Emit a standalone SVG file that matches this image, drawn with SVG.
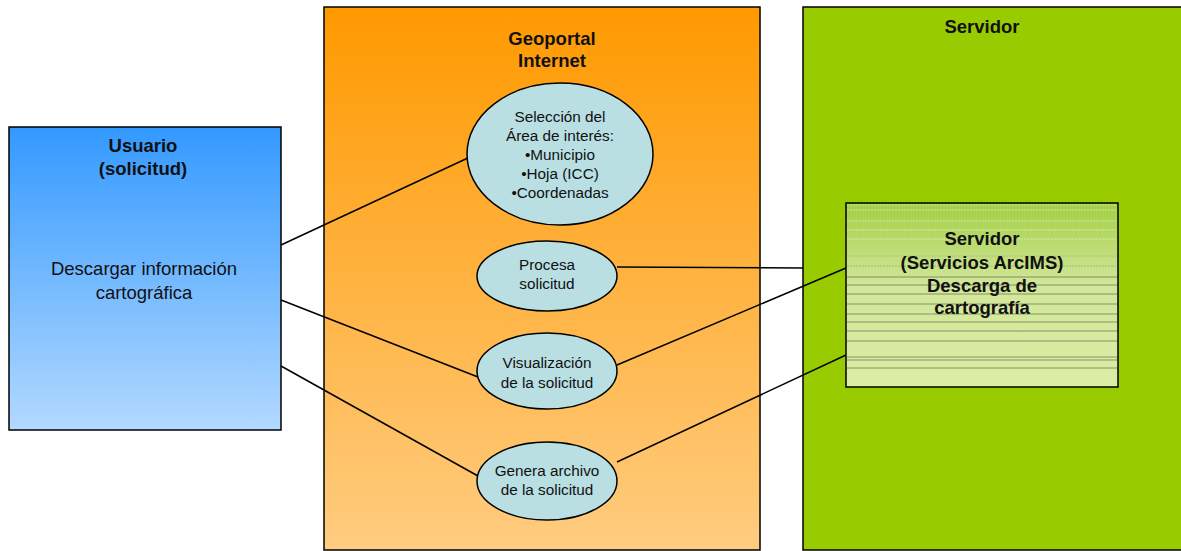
<svg xmlns="http://www.w3.org/2000/svg" width="1181" height="551" viewBox="0 0 1181 551">
<defs>
<linearGradient id="gBlue" x1="0" y1="0" x2="0" y2="1"><stop offset="0" stop-color="#3399ff"/><stop offset="1" stop-color="#b3d9ff"/></linearGradient>
<linearGradient id="gOrange" x1="0" y1="0" x2="0" y2="1"><stop offset="0" stop-color="#ff9900"/><stop offset="1" stop-color="#ffcc80"/></linearGradient>
<linearGradient id="gGreen" x1="0" y1="0" x2="0" y2="1"><stop offset="0" stop-color="#a3cf44"/><stop offset="0.45" stop-color="#d2e79a"/><stop offset="1" stop-color="#dbeda3"/></linearGradient>
<style>
.box{stroke:#000;stroke-width:1.5}
.ell{fill:#b9dfe3;stroke:#000;stroke-width:1.5}
.t{font-family:"Liberation Sans",Arial,sans-serif;text-anchor:middle;fill:#111}
.b{font-weight:bold;font-size:18.5px}
.n{font-size:18.5px}
.s{font-size:15.3px}
.con line{stroke:#000;stroke-width:1.5}
.art{stroke:#333;stroke-width:0.8;opacity:0.6}
</style>
</defs>
<rect width="1181" height="551" fill="#fff"/>
<g id="geoportal">
<rect class="box" x="324" y="7" width="436" height="543" fill="url(#gOrange)"/>
<text class="t b" x="552" y="45">Geoportal</text>
<text class="t b" x="552" y="67">Internet</text>
</g>
<g id="servidor">
<rect class="box" x="803" y="7" width="380" height="543" fill="#99cc00"/>
<text class="t b" x="982" y="33">Servidor</text>
</g>
<g id="usuario">
<rect class="box" x="9" y="127" width="272" height="303" fill="url(#gBlue)"/>
<text class="t b" x="143" y="152">Usuario</text>
<text class="t b" x="143" y="175">(solicitud)</text>
<text class="t n" x="144" y="275">Descargar información</text>
<text class="t n" x="144" y="299">cartográfica</text>
</g>
<g id="servidor-arcims">
<rect class="box" x="846" y="203" width="272" height="184" fill="url(#gGreen)"/>
<g class="art">
<line x1="847" y1="205" x2="1117" y2="205" stroke="#fff" stroke-dasharray="2 1"/>
<line x1="847" y1="210" x2="1117" y2="210" stroke="#fff" stroke-dasharray="2 1"/>
<line x1="847" y1="221" x2="1117" y2="221" stroke="#fff" stroke-dasharray="2 1"/>
<line x1="847" y1="230" x2="1117" y2="230" stroke="#fff" stroke-dasharray="2 1"/>
<line x1="847" y1="239" x2="1117" y2="239" stroke="#fff" stroke-dasharray="2 1"/>
<line x1="847" y1="256" x2="1117" y2="256" stroke="#999" stroke-dasharray="2 1"/>
<line x1="847" y1="266" x2="1117" y2="266" stroke="#888" stroke-dasharray="2 1"/>
<line x1="847" y1="277" x2="1117" y2="277"/>
<line x1="847" y1="285" x2="1117" y2="285"/>
<line x1="847" y1="294" x2="1117" y2="294"/>
<line x1="847" y1="304" x2="1117" y2="304"/>
<line x1="847" y1="314" x2="1117" y2="314"/>
<line x1="847" y1="322" x2="1117" y2="322"/>
<line x1="847" y1="331" x2="1117" y2="331"/>
<line x1="847" y1="341" x2="1117" y2="341"/>
<line x1="847" y1="357" x2="1117" y2="357"/>
<line x1="847" y1="360" x2="1117" y2="360"/>
<line x1="847" y1="368" x2="1117" y2="368"/>
</g>
<text class="t b" x="982" y="245">Servidor</text>
<text class="t b" x="982" y="269">(Servicios ArcIMS)</text>
<text class="t b" x="982" y="292">Descarga de</text>
<text class="t b" x="982" y="314">cartografía</text>
</g>
<g class="con" id="connectors">
<line x1="281" y1="245" x2="470" y2="157"/>
<line x1="281" y1="300" x2="478" y2="377"/>
<line x1="281" y1="366" x2="478" y2="476"/>
<line x1="617" y1="267" x2="803" y2="268"/>
<line x1="617" y1="365" x2="846" y2="268"/>
<line x1="617" y1="462" x2="846" y2="355"/>
</g>
<g id="seleccion">
<ellipse class="ell" cx="560" cy="154" rx="93" ry="71"/>
<text class="t s" x="560" y="122">Selección del</text>
<text class="t s" x="560" y="141">Área de interés:</text>
<text class="t s" x="560" y="160">•Municipio</text>
<text class="t s" x="560" y="179">•Hoja (ICC)</text>
<text class="t s" x="560" y="198">•Coordenadas</text>
</g>
<g id="procesa">
<ellipse class="ell" cx="547" cy="276" rx="70" ry="35"/>
<text class="t s" x="547" y="270">Procesa</text>
<text class="t s" x="547" y="289">solicitud</text>
</g>
<g id="visualizacion">
<ellipse class="ell" cx="547" cy="371" rx="70" ry="38"/>
<text class="t s" x="547" y="368">Visualización</text>
<text class="t s" x="547" y="388">de la solicitud</text>
</g>
<g id="genera">
<ellipse class="ell" cx="547" cy="481" rx="70" ry="39"/>
<text class="t s" x="547" y="476">Genera archivo</text>
<text class="t s" x="547" y="495">de la solicitud</text>
</g>
</svg>
